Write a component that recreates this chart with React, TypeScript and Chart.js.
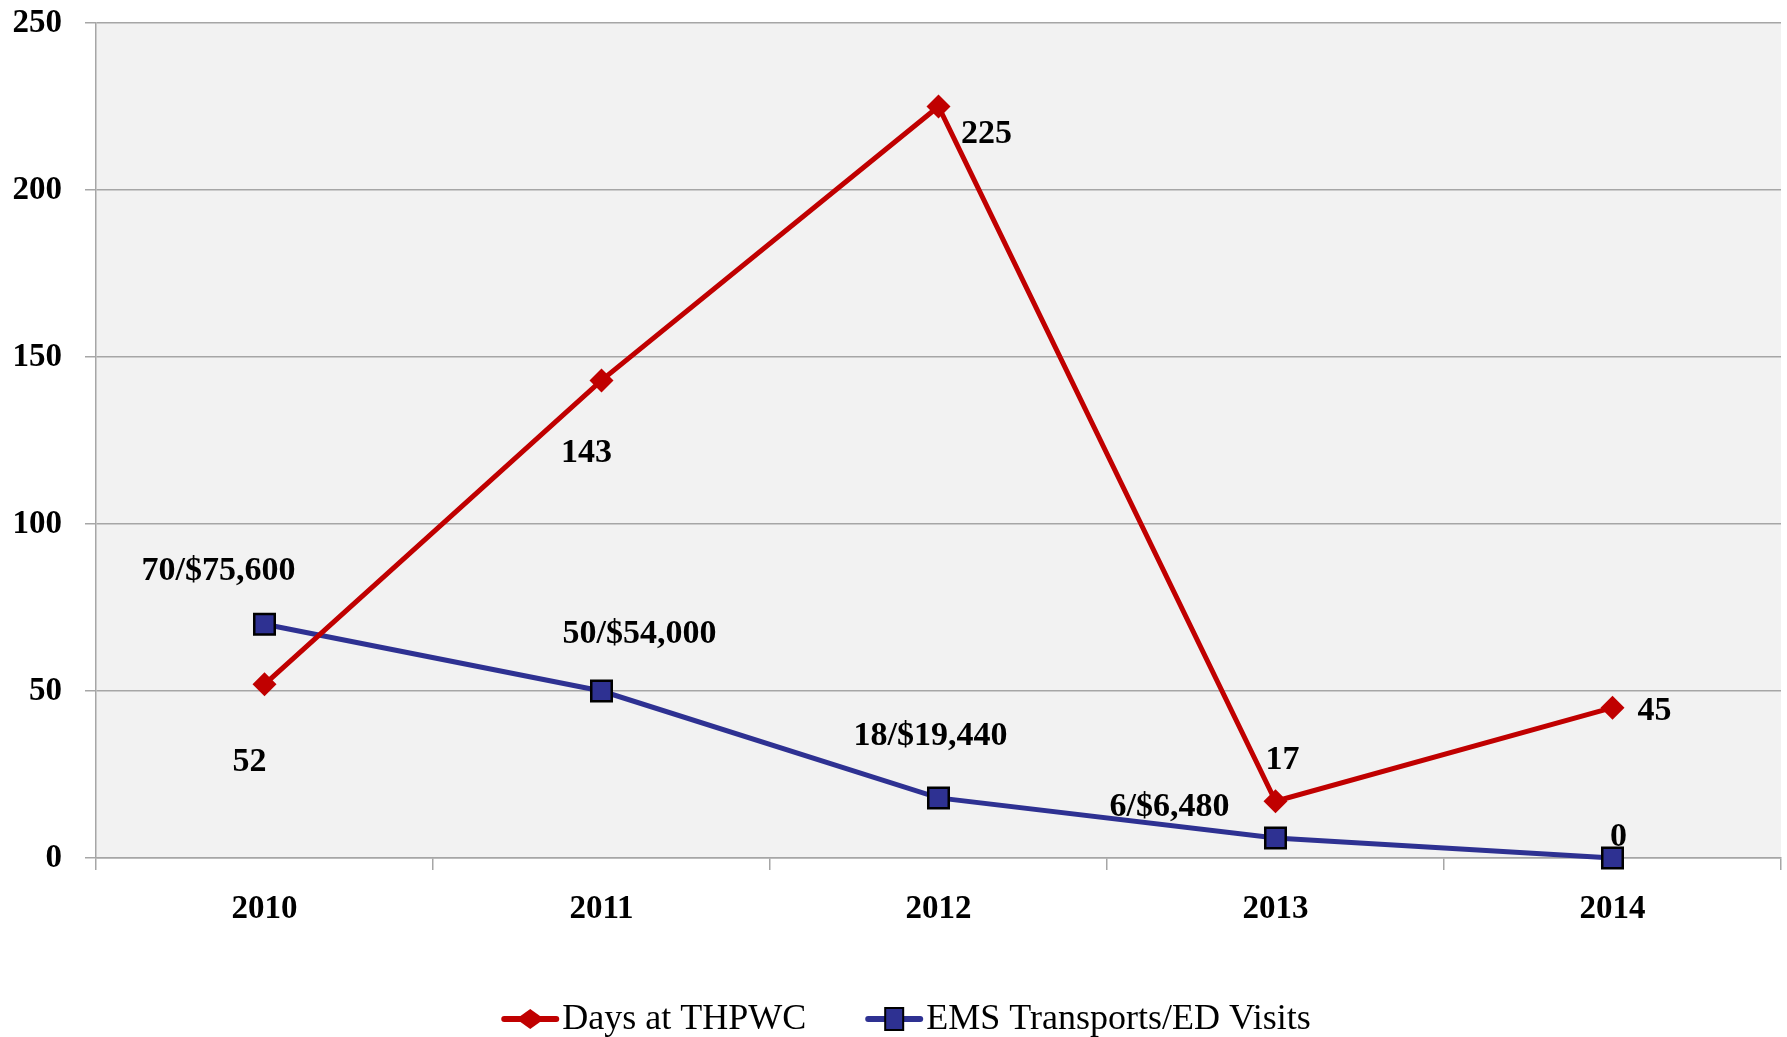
import React, { useEffect, useRef } from 'react';
import { Chart, registerables } from 'chart.js';

Chart.register(...registerables);

const categories = ['2010', '2011', '2012', '2013', '2014'];
const daysAtTHPWC = [52, 143, 225, 17, 45];
const emsVisits = [70, 50, 18, 6, 0];
const daysLabels = ['52', '143', '225', '17', '45'];
const emsLabels = ['70/$75,600', '50/$54,000', '18/$19,440', '6/$6,480', '0'];
const seriesNames = ['Days at THPWC', 'EMS Transports/ED Visits'];
const yMin = 0;
const yMax = 250;
const yStep = 50;

const W = 1787;
const H = 1037;
const RED = '#c00000';
const BLUE = '#2e3192';
const GRID = '#a6a6a6';
const FONT = '"Liberation Serif", "Times New Roman", serif';

// label offsets (style only)
const daysOffsets = [[-15, 78], [-15, 73], [48, 28], [7, -41], [42, 4]];
const emsOffsets = [[-46, -53], [38, -57], [-8, -62], [-106, -31], [6, -21]];

const bgPlugin = {
  id: 'bgPlugin',
  beforeDraw(chart: any) {
    const { ctx, chartArea } = chart;
    ctx.save();
    ctx.fillStyle = '#ffffff';
    ctx.fillRect(0, 0, chart.width, chart.height);
    ctx.fillStyle = '#f2f2f2';
    ctx.fillRect(chartArea.left, chartArea.top, chartArea.right - chartArea.left, chartArea.bottom - chartArea.top);
    ctx.restore();
  },
};

const labelPlugin = {
  id: 'labelPlugin',
  afterDatasetsDraw(chart: any) {
    const { ctx } = chart;
    const sets = [
      { labels: daysLabels, offsets: daysOffsets },
      { labels: emsLabels, offsets: emsOffsets },
    ];
    ctx.save();
    ctx.font = `bold 34px ${FONT}`;
    ctx.fillStyle = '#000';
    ctx.textAlign = 'center';
    ctx.textBaseline = 'middle';
    sets.forEach((s, di) => {
      const meta = chart.getDatasetMeta(di);
      meta.data.forEach((pt: any, i: number) => {
        const [dx, dy] = s.offsets[i];
        ctx.fillText(s.labels[i], pt.x + dx, pt.y + dy);
      });
    });
    ctx.restore();
  },
};

const legendPlugin = {
  id: 'customLegend',
  afterDraw(chart: any) {
    const { ctx } = chart;
    const y = 1019;
    ctx.save();
    ctx.font = `36px ${FONT}`;
    ctx.textBaseline = 'middle';
    ctx.textAlign = 'left';
    const lineW = 56;
    const gapText = 4;
    const gapItems = 60;
    const widths = seriesNames.map((n) => ctx.measureText(n).width);
    const total = widths.reduce((a, w) => a + lineW + gapText + w, 0) + gapItems;
    let x = W / 2 - total / 2 + 13;
    seriesNames.forEach((name, i) => {
      const color = i === 0 ? RED : BLUE;
      ctx.strokeStyle = color;
      ctx.lineWidth = 6;
      ctx.lineCap = 'round';
      ctx.beginPath();
      ctx.moveTo(x + 2, y);
      ctx.lineTo(x + lineW - 2, y);
      ctx.stroke();
      const cx = x + lineW / 2;
      if (i === 0) {
        ctx.fillStyle = RED;
        ctx.beginPath();
        ctx.moveTo(cx, y - 10);
        ctx.lineTo(cx + 14, y);
        ctx.lineTo(cx, y + 10);
        ctx.lineTo(cx - 14, y);
        ctx.closePath();
        ctx.fill();
      } else {
        ctx.fillStyle = BLUE;
        ctx.fillRect(cx - 9, y - 11, 18, 22);
        ctx.strokeStyle = '#000';
        ctx.lineWidth = 2;
        ctx.strokeRect(cx - 9, y - 11, 18, 22);
      }
      ctx.fillStyle = '#000';
      ctx.fillText(name, x + lineW + gapText, y + 1);
      x += lineW + gapText + widths[i] + gapItems;
    });
    ctx.restore();
  },
};

export default function App() {
  const ref = useRef<HTMLCanvasElement | null>(null);

  useEffect(() => {
    if (!ref.current) return;
    const chart = new Chart(ref.current, {
      type: 'line',
      data: {
        labels: categories,
        datasets: [
          {
            label: seriesNames[0],
            data: daysAtTHPWC,
            borderColor: RED,
            backgroundColor: RED,
            borderWidth: 5,
            pointStyle: 'rectRot',
            pointRadius: 12,
            pointBorderWidth: 0,
            pointBackgroundColor: RED,
            pointBorderColor: RED,
            tension: 0,
            order: 1,
          },
          {
            label: seriesNames[1],
            data: emsVisits,
            borderColor: BLUE,
            backgroundColor: BLUE,
            borderWidth: 5,
            pointStyle: 'rect',
            pointRadius: 14.5,
            pointBorderWidth: 2.5,
            pointBackgroundColor: BLUE,
            pointBorderColor: '#000',
            tension: 0,
            order: 2,
            clip: false,
          },
        ],
      },
      options: {
        responsive: false,
        animation: false,
        devicePixelRatio: 1,
        layout: { autoPadding: false, padding: { top: 23, right: 6, left: 0, bottom: 0 } },
        plugins: {
          legend: { display: false },
          tooltip: { enabled: false },
        },
        scales: {
          x: {
            type: 'category',
            offset: true,
            grid: {
              offset: true,
              drawOnChartArea: false,
              drawTicks: true,
              tickLength: 12,
              color: GRID,
              lineWidth: 1.5,
            },
            border: { display: true, color: GRID, width: 1.5 },
            ticks: {
              color: '#000',
              font: { family: FONT, size: 33, weight: 'bold' },
              padding: 20,
              maxRotation: 0,
            },
            afterFit(scale: any) {
              scale.height = 179;
              scale.paddingLeft = 0;
              scale.paddingRight = 0;
              scale.paddingTop = 0;
              scale.paddingBottom = 0;
            },
          },
          y: {
            min: yMin,
            max: yMax,
            ticks: {
              stepSize: yStep,
              color: '#000',
              font: { family: FONT, size: 33, weight: 'bold' },
              padding: 23,
            },
            grid: {
              color: GRID,
              lineWidth: 1.5,
              tickLength: 11,
              drawTicks: true,
            },
            border: { display: true, color: GRID, width: 1.5 },
            afterFit(scale: any) {
              scale.width = 96;
              scale.paddingLeft = 0;
              scale.paddingRight = 0;
              scale.paddingTop = 0;
              scale.paddingBottom = 0;
            },
          },
        },
      },
      plugins: [bgPlugin, labelPlugin, legendPlugin],
    });
    return () => chart.destroy();
  }, []);

  return (
    <div style={{ position: 'fixed', left: 0, top: 0, width: W, height: H, background: '#fff' }}>
      <canvas ref={ref} width={W} height={H} style={{ width: W, height: H, display: 'block' }} />
    </div>
  );
}
